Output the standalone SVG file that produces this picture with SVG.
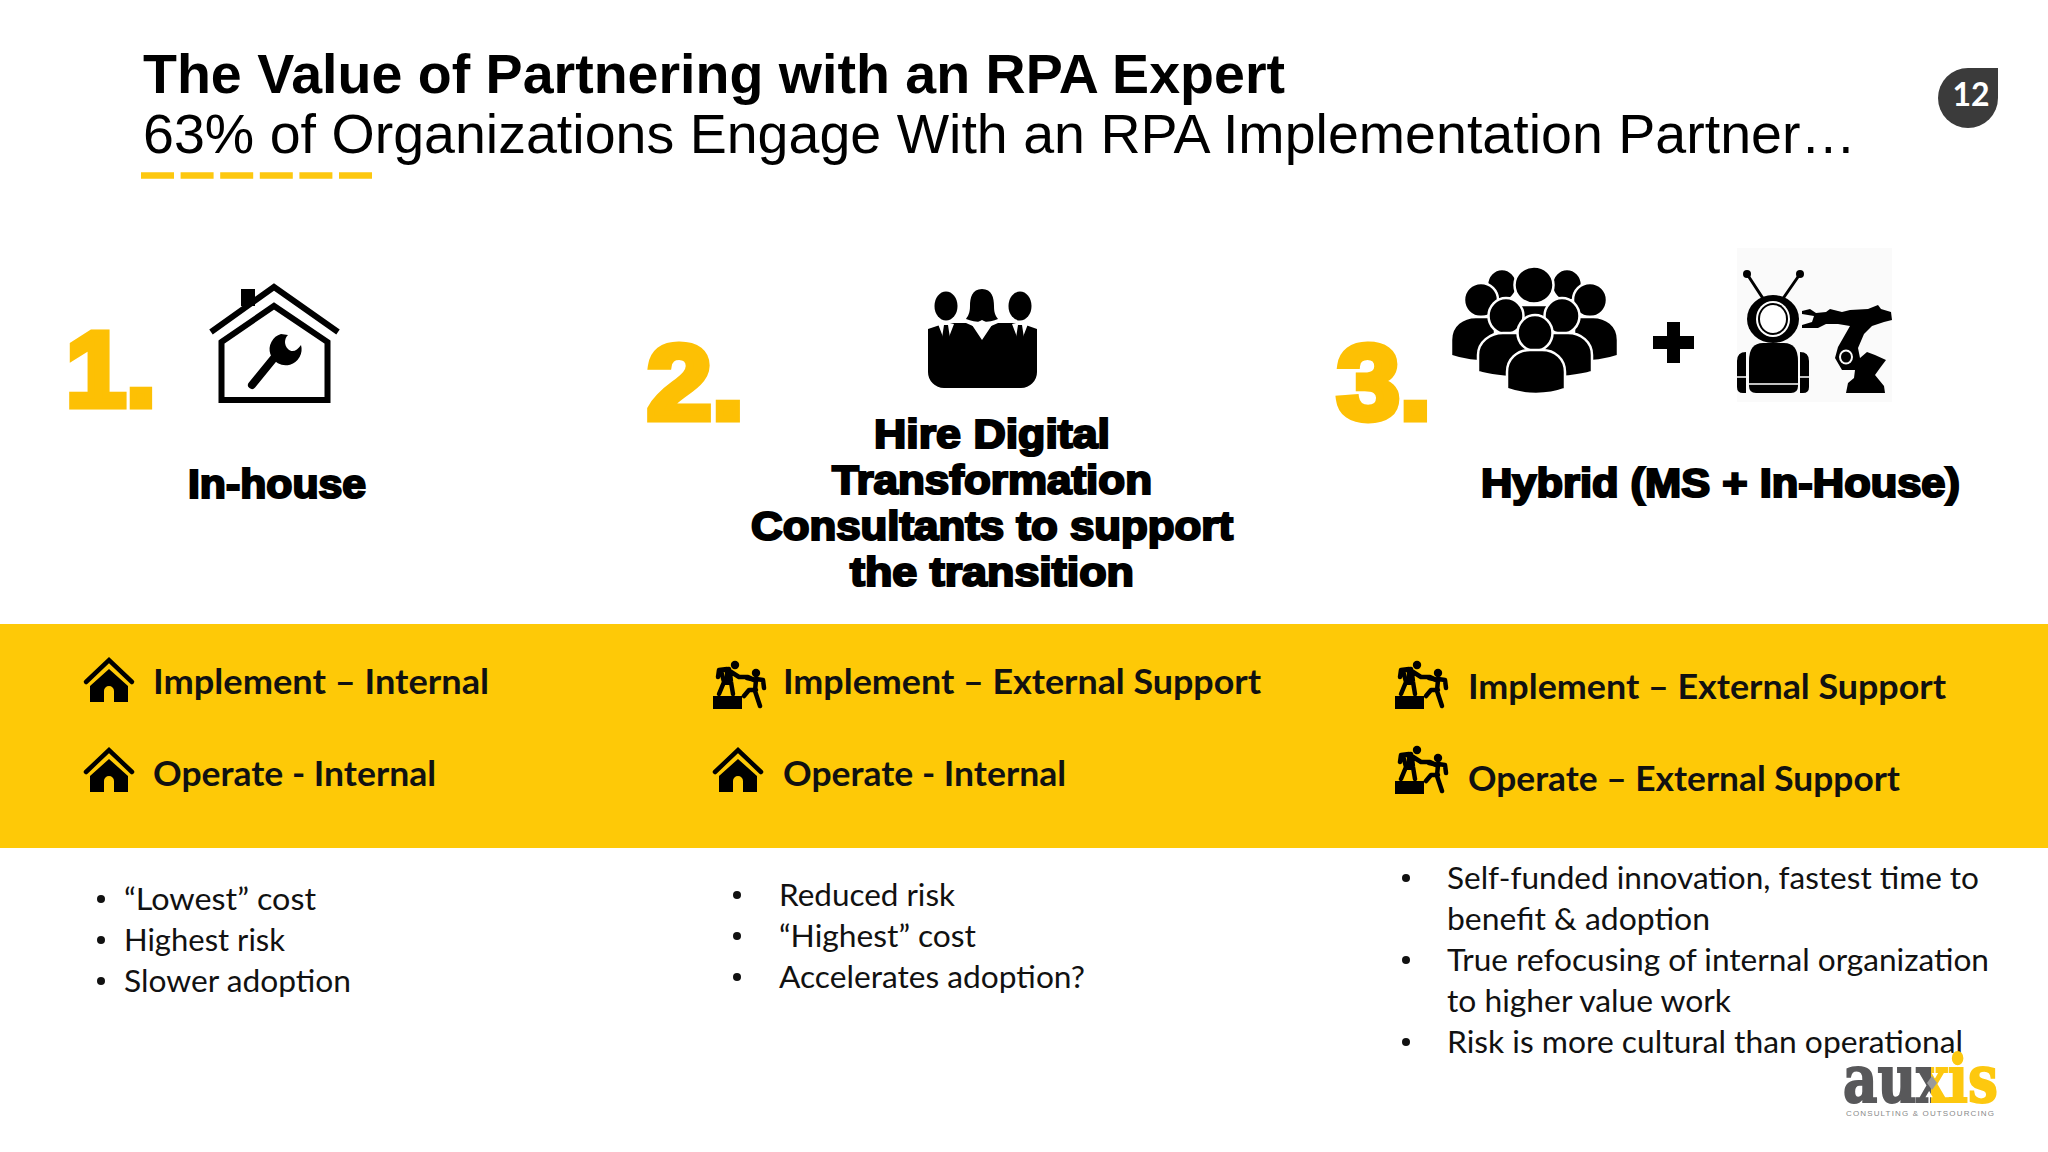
<svg xmlns="http://www.w3.org/2000/svg" width="2048" height="1152" viewBox="0 0 2048 1152">
<style>
.t{font-family:"Liberation Sans",Arial,sans-serif;fill:#000}
.n{font-family:"Liberation Sans",Arial,sans-serif;font-weight:700;font-size:106px;fill:#fdc004;stroke:#fdc004;stroke-width:7px}
.h{font-family:"Liberation Sans",Arial,sans-serif;font-weight:700;font-size:40px;fill:#000;stroke:#000;stroke-width:2.200px}
.b{font-family:Lato,"Open Sans",sans-serif;font-weight:700;font-size:35px;fill:#111}
.p{font-family:Lato,"Open Sans",sans-serif;font-size:31px;fill:#111}
</style>
<defs>
<linearGradient id="lg" gradientUnits="userSpaceOnUse" x1="1843" y1="0" x2="1998" y2="0">
<stop offset="0.57" stop-color="#58585a"/><stop offset="0.57" stop-color="#fdc80f"/>
</linearGradient>
<g id="mh">
<path d="M-23 25 0 3 23 25" fill="none" stroke="#000" stroke-width="4.500" stroke-linecap="round"/>
<path fill-rule="evenodd" d="M0 12-19 29V45H19V29ZM-5 45V34A5 5 0 0 1 5 34V45Z"/>
</g>
<g id="mp">
<rect x="13" y="56" width="29" height="13"/>
<circle cx="35" cy="25" r="4.200"/><circle cx="56" cy="33" r="4.200"/>
<path d="M19 54 24 42 22 34 20 31M33 54 31 42 30 33M28 30 39 37 48 37 54 40M20 31 29 29M18 37 19 30 27 29" fill="none" stroke="#000" stroke-width="4.500" stroke-linecap="round" stroke-linejoin="round"/>
<path d="M25 30 32 30 32 45 25 45Z"/>
<path d="M47 38 56 40 55 51 60 66M64 48 63 40 56 39M44 56 49 50 56 50" fill="none" stroke="#000" stroke-width="4.500" stroke-linecap="round" stroke-linejoin="round"/>
</g>
</defs>
<rect width="2048" height="1152" fill="#fff"/>

<g id="title">
<text class="t" x="143" y="93" font-size="55" font-weight="700" textLength="1142" lengthAdjust="spacingAndGlyphs">The Value of Partnering with an RPA Expert</text>
<text class="t" x="143" y="153" font-size="55" textLength="1713" lengthAdjust="spacingAndGlyphs">63% of Organizations Engage With an RPA Implementation Partner…</text>
<path d="M141 175.500H372" stroke="#fdc80f" stroke-width="6.500" stroke-dasharray="33 6.600"/>
</g>

<g id="page-number">
<path d="M1998 68V98A30 30 0 1 1 1968 68Z" fill="#3b3b3b"/>
<text x="1971" y="106" font-family="Lato,sans-serif" font-weight="700" font-size="32" fill="#fff" text-anchor="middle">12</text>
</g>

<g id="option-1">
<text class="n" x="66" y="406" textLength="90" lengthAdjust="spacingAndGlyphs">1.</text>
<g id="icon-house" fill="none" stroke="#000">
<path d="M241 289H255V306H241Z" fill="#000" stroke="none"/>
<path d="M211 332 274 287 338 332" stroke-width="6"/>
<path d="M221.500 342 274 306 327.500 342V400H221.500Z" stroke-width="6"/>
<path d="M252 385 274 358" stroke-width="8" stroke-linecap="round"/>
<path d="M281 334A16 16 0 1 0 301 345C297 351 292 353 288 349 284 345 284 339 288 335Z" fill="#000" stroke="none"/>
</g>
<text class="h" x="188" y="498" textLength="178" lengthAdjust="spacingAndGlyphs">In-house</text>
</g>

<g id="option-2">
<text class="n" x="647" y="419" textLength="97" lengthAdjust="spacingAndGlyphs">2.</text>
<g id="icon-team">
<path d="M928 329 946 323 966 323 982 330 998 323 1020 323 1037 329V372A16 16 0 0 1 1021 388H944A16 16 0 0 1 928 372Z"/>
<ellipse cx="946" cy="306" rx="11.500" ry="14.500"/><ellipse cx="1020" cy="306" rx="11.500" ry="14.500"/>
<path d="M982 289C972 289 970 298 970 306 970 313 968 316 966 319 971 321 976 322 982 322 988 322 994 321 998 319 995 315 994 312 994 306 994 298 992 289 982 289Z"/>
<path d="M938 324 946 322 954 324 949 337 946 328 943 337ZM1012 324 1020 322 1028 324 1023 337 1020 328 1017 337ZM972 325 982 320 992 325 982 340Z" fill="#fff"/>
<path d="M944 325H948L950 338 946 340 942 338ZM1018 325H1022L1024 338 1020 340 1016 338Z"/>
</g>
<text class="h" x="874" y="448" textLength="236" lengthAdjust="spacingAndGlyphs">Hire Digital</text>
<text class="h" x="832" y="494" textLength="320" lengthAdjust="spacingAndGlyphs">Transformation</text>
<text class="h" x="751" y="540" textLength="482" lengthAdjust="spacingAndGlyphs">Consultants to support</text>
<text class="h" x="850" y="586" textLength="284" lengthAdjust="spacingAndGlyphs">the transition</text>
</g>

<g id="option-3">
<text class="n" x="1337" y="419" textLength="94" lengthAdjust="spacingAndGlyphs">3.</text>
<g id="icon-people" stroke="#fff" stroke-width="2.500">
<ellipse cx="1502" cy="285" rx="15" ry="16"/><ellipse cx="1567" cy="285" rx="15" ry="16"/>
<ellipse cx="1481" cy="300" rx="17" ry="17"/><ellipse cx="1590" cy="300" rx="17" ry="17"/>
<ellipse cx="1534" cy="285" rx="19.500" ry="18.500"/>
<path d="M1451 356V340C1451 325 1463 317 1476 317H1495V362C1475 362 1462 360 1451 356ZM1618 356V340C1618 325 1606 317 1593 317H1574V362C1594 362 1607 360 1618 356Z"/>
<path d="M1518 305H1552V330H1518Z"/>
<ellipse cx="1506" cy="316" rx="17.500" ry="18"/><ellipse cx="1562" cy="316" rx="17.500" ry="18"/>
<path d="M1478 372V355C1478 342 1490 333 1503 333H1568C1581 333 1592 342 1592 355V372C1580 376 1565 378 1535 378 1505 378 1490 376 1478 372Z"/>
<ellipse cx="1535" cy="333" rx="17.500" ry="18"/>
<path d="M1507 389V372C1507 359 1517 350 1530 350H1542C1555 350 1565 359 1565 372V389C1557 392 1547 394 1536 394 1525 394 1515 392 1507 389Z"/>
</g>
<path id="icon-plus" d="M1667 322H1680V336H1694V349H1680V363H1667V349H1653V336H1667Z"/>
<g id="icon-robot">
<rect x="1737" y="248" width="155" height="154" fill="#fafafa"/>
<path d="M1747 274 1764 300M1800 274 1782 300" stroke="#000" stroke-width="3"/>
<circle cx="1747" cy="274" r="4"/><circle cx="1800" cy="274" r="4"/>
<ellipse cx="1773" cy="319" rx="26" ry="24"/>
<ellipse cx="1773" cy="319" rx="17" ry="18" fill="#fff"/>
<ellipse cx="1773" cy="319" rx="15" ry="16"/>
<ellipse cx="1773" cy="319" rx="13" ry="14" fill="#fff"/>
<path d="M1749 361Q1749 343 1763 343H1784Q1798 343 1798 361V386Q1798 393 1791 393H1756Q1749 393 1749 386Z"/>
<path d="M1737 361Q1737 352 1746 352V393H1743Q1737 393 1737 387ZM1809 361Q1809 352 1800 352V393H1803Q1809 393 1809 387Z"/>
<path d="M1737 377H1749M1798 377H1809M1749 384H1798" stroke="#fff" stroke-width="1.500"/>
<path d="M1802 311 1810 309 1816 313 1826 312 1830 309 1842 312 1850 310 1868 309 1878 305 1881 309 1891 312 1892 320 1884 322 1872 326 1864 334 1858 348 1860 358 1867 352 1875 355 1886 360 1880 368 1875 375 1884 386 1885 393H1846L1848 383 1854 378 1855 370 1842 370 1835 358 1838 347 1850 326 1838 324 1826 324 1818 328 1802 328 1802 325 1812 322 1814 316 1802 314Z"/>
<ellipse cx="1846" cy="357" rx="7" ry="7.500" fill="#fafafa"/>
<ellipse cx="1846" cy="357" rx="5" ry="5.500"/>
</g>
<text class="h" x="1481" y="497" textLength="479" lengthAdjust="spacingAndGlyphs">Hybrid (MS + In-House)</text>
</g>

<g id="band">
<rect x="0" y="624" width="2048" height="224" fill="#fec907"/>
<use href="#mh" x="109" y="657"/>
<text class="b" x="153" y="694" textLength="336" lengthAdjust="spacingAndGlyphs">Implement – Internal</text>
<use href="#mh" x="109" y="747"/>
<text class="b" x="153" y="786" textLength="283" lengthAdjust="spacingAndGlyphs">Operate - Internal</text>
<use href="#mp" x="700" y="640"/>
<text class="b" x="783" y="694" textLength="478" lengthAdjust="spacingAndGlyphs">Implement – External Support</text>
<use href="#mh" x="738" y="747"/>
<text class="b" x="783" y="786" textLength="283" lengthAdjust="spacingAndGlyphs">Operate - Internal</text>
<use href="#mp" x="1382" y="640"/>
<text class="b" x="1468" y="699" textLength="478" lengthAdjust="spacingAndGlyphs">Implement – External Support</text>
<use href="#mp" x="1382" y="725"/>
<text class="b" x="1468" y="791" textLength="432" lengthAdjust="spacingAndGlyphs">Operate – External Support</text>
</g>

<g id="list-1" fill="#111">
<circle cx="101" cy="899" r="4"/><circle cx="101" cy="940" r="4"/><circle cx="101" cy="981" r="4"/>
<text class="p" x="124" y="910" textLength="192" lengthAdjust="spacingAndGlyphs">“Lowest” cost</text>
<text class="p" x="124" y="951" textLength="161" lengthAdjust="spacingAndGlyphs">Highest risk</text>
<text class="p" x="124" y="992" textLength="227" lengthAdjust="spacingAndGlyphs">Slower adoption</text>
</g>
<g id="list-2" fill="#111">
<circle cx="737" cy="895" r="4"/><circle cx="737" cy="936" r="4"/><circle cx="737" cy="977" r="4"/>
<text class="p" x="779" y="906" textLength="176" lengthAdjust="spacingAndGlyphs">Reduced risk</text>
<text class="p" x="779" y="947" textLength="197" lengthAdjust="spacingAndGlyphs">“Highest” cost</text>
<text class="p" x="779" y="988" textLength="306" lengthAdjust="spacingAndGlyphs">Accelerates adoption?</text>
</g>
<g id="list-3" fill="#111">
<circle cx="1406" cy="878" r="4"/><circle cx="1406" cy="960" r="4"/><circle cx="1406" cy="1042" r="4"/>
<text class="p" x="1447" y="889" textLength="532" lengthAdjust="spacingAndGlyphs">Self-funded innovation, fastest time to</text>
<text class="p" x="1447" y="930" textLength="263" lengthAdjust="spacingAndGlyphs">benefit &amp; adoption</text>
<text class="p" x="1447" y="971" textLength="542" lengthAdjust="spacingAndGlyphs">True refocusing of internal organization</text>
<text class="p" x="1447" y="1012" textLength="284" lengthAdjust="spacingAndGlyphs">to higher value work</text>
<text class="p" x="1447" y="1053" textLength="516" lengthAdjust="spacingAndGlyphs">Risk is more cultural than operational</text>
</g>

<g id="logo">
<text x="1843" y="1102" font-family="DejaVu Serif,serif" font-weight="700" font-size="66" fill="url(#lg)" stroke="url(#lg)" stroke-width="2" textLength="155" lengthAdjust="spacingAndGlyphs">auxis</text>
<path d="M1932 1076 1937 1083 1932 1090 1927 1083Z" fill="#9a9a9a"/>
<text x="1846" y="1116" font-family="Liberation Sans,sans-serif" font-size="8" fill="#8a8a8a" textLength="148" lengthAdjust="spacing">CONSULTING &amp; OUTSOURCING</text>
</g>
</svg>
